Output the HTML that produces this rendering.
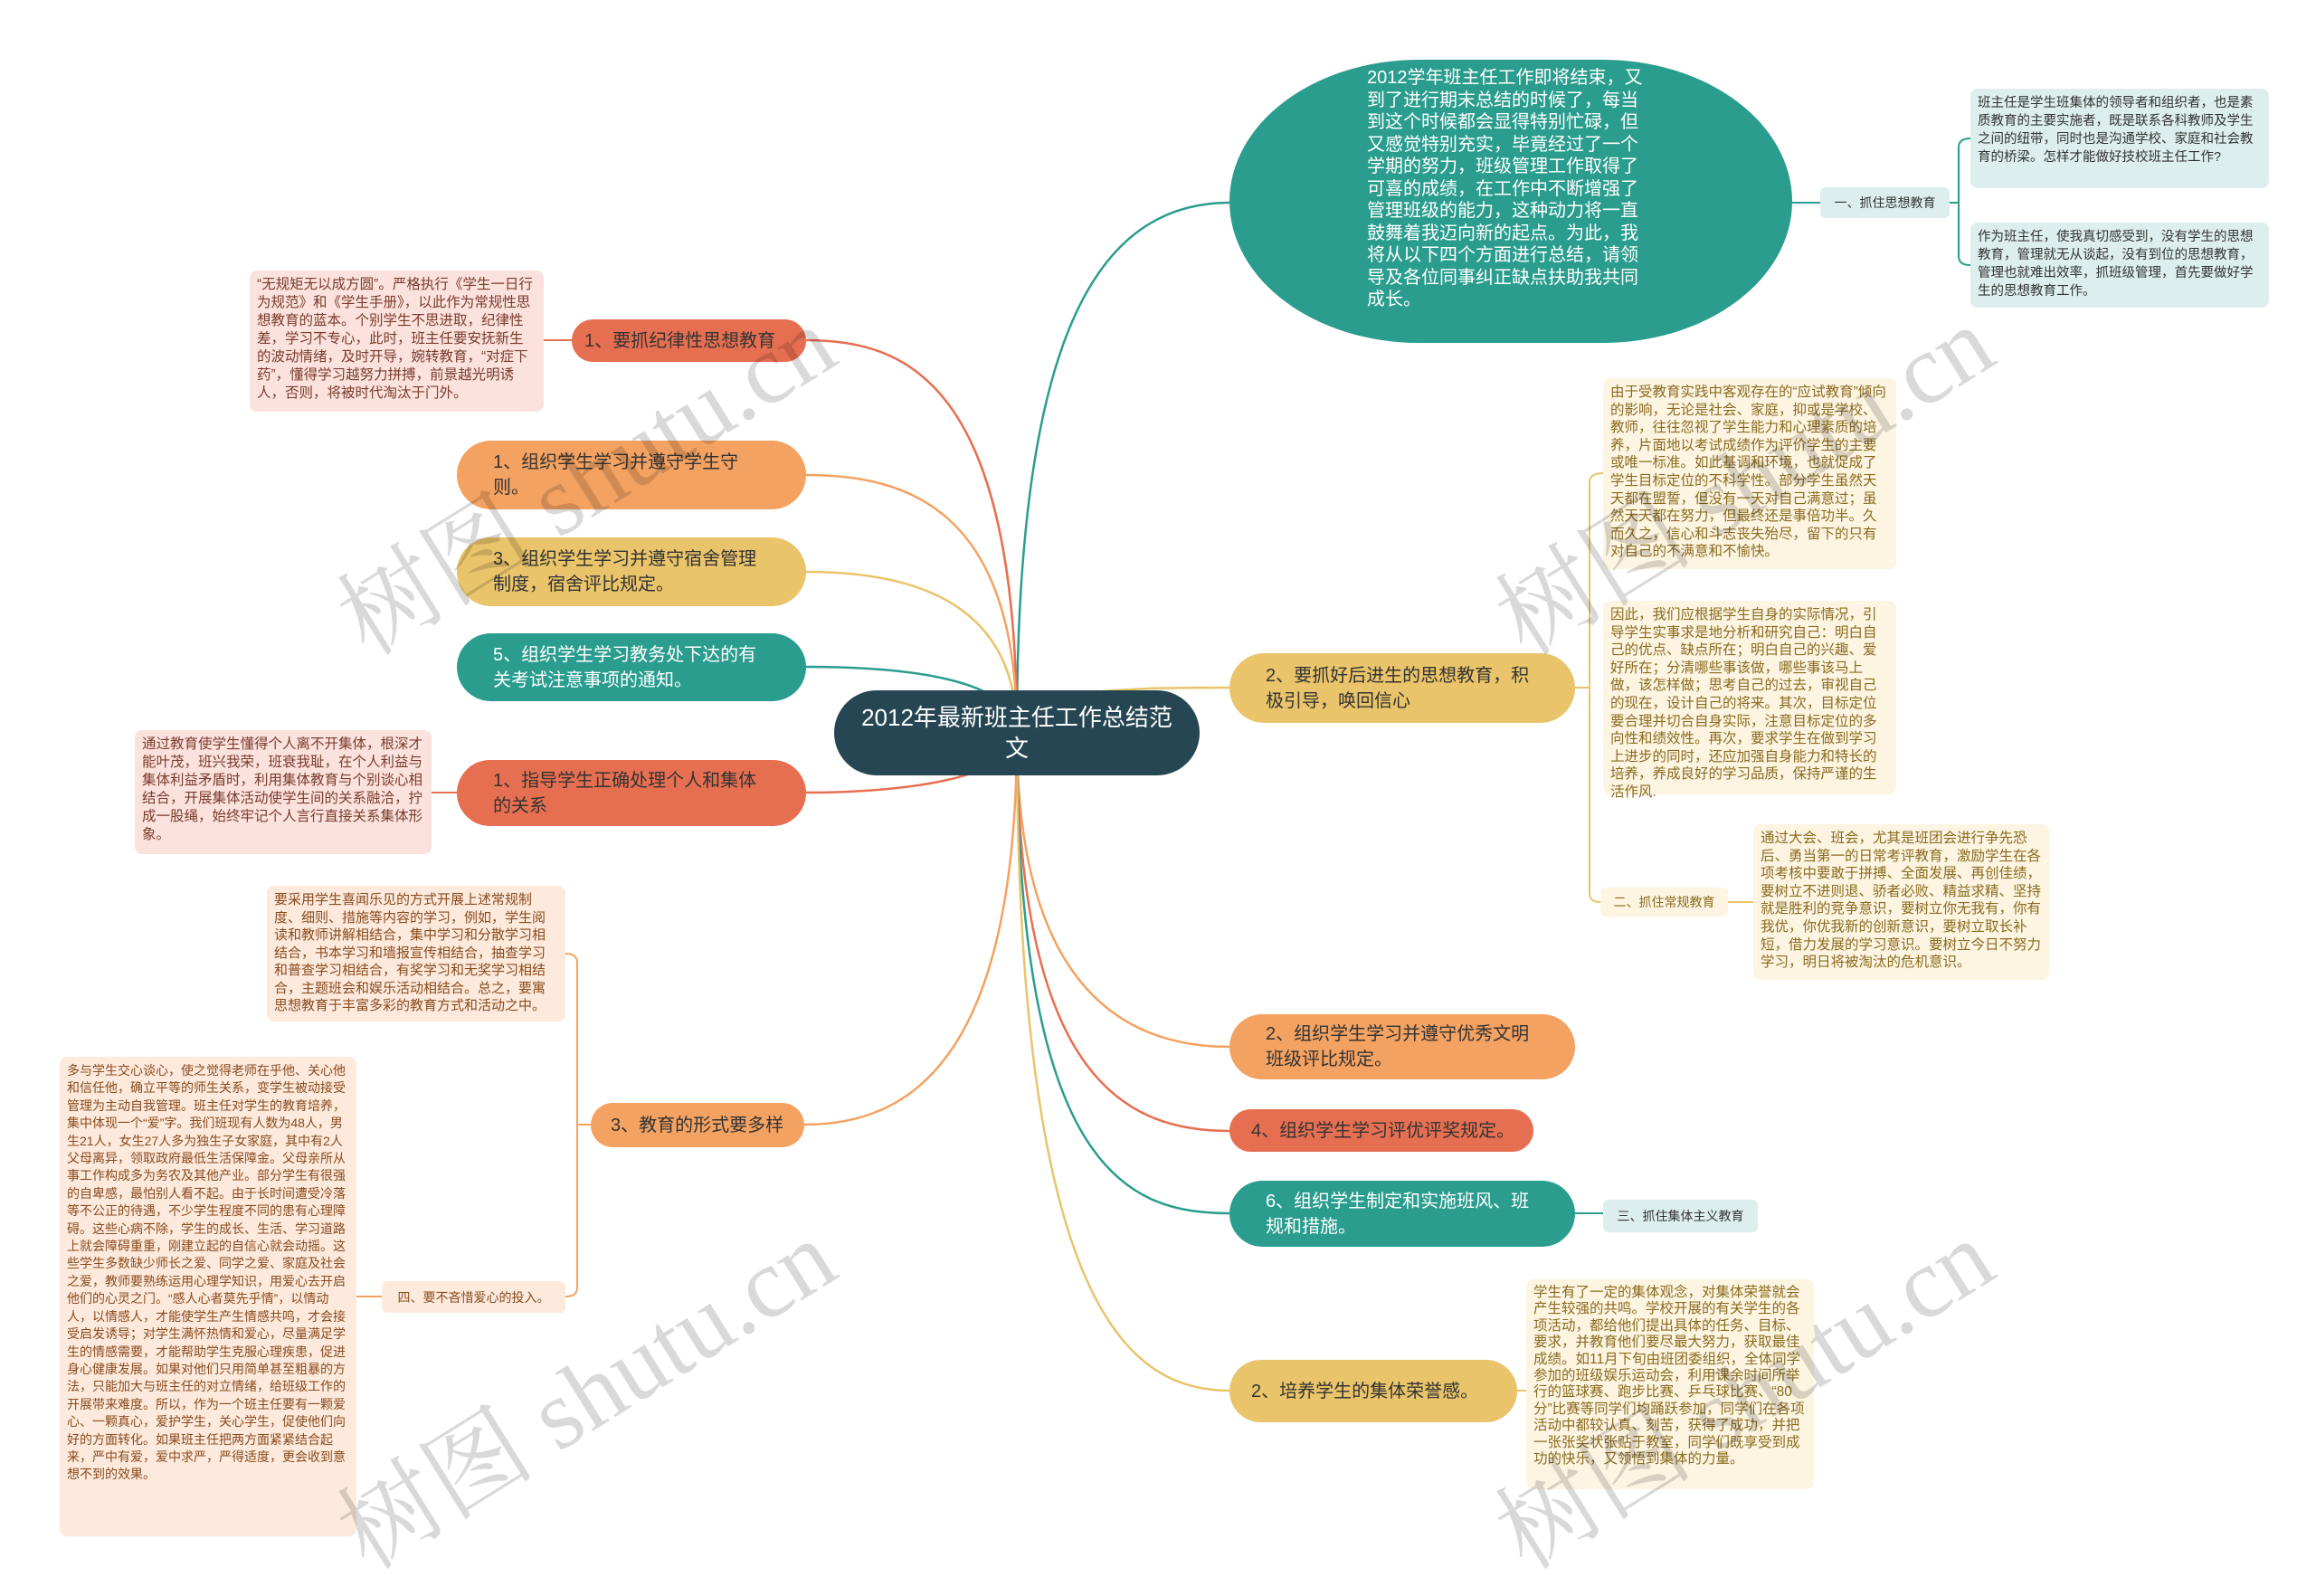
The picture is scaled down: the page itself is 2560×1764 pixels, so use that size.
<!DOCTYPE html>
<html><head><meta charset="utf-8"><style>
*{margin:0;padding:0;box-sizing:border-box}
body{width:2560px;height:1759px;background:#fff;position:relative;overflow:hidden;font-family:"Liberation Sans","Noto Sans CJK SC",sans-serif}
.n{position:absolute;border-radius:40px;font-size:20px;line-height:28px;display:flex;align-items:center;padding:0 40px}
.b{position:absolute;border-radius:8px;font-size:14.5px;line-height:20px;padding:6px 8px}
.s{position:absolute;border-radius:6px;font-size:14px;display:flex;align-items:center;justify-content:center;white-space:nowrap}
.wm{position:absolute;font-family:"Liberation Serif","Noto Serif CJK SC",serif;font-size:110px;color:rgba(0,0,0,0.15);transform:rotate(-32deg);white-space:nowrap;transform-origin:left top}
</style></head><body>
<svg width="2560" height="1759" style="position:absolute;left:0;top:0" fill="none" stroke-width="2.5">
<path d="M1124 810 C1124 400 1200 224 1359 224" stroke="#2a9d8f"/>
<path d="M1124 810 C1124 760 1250 760 1359 760" stroke="#e9c46a"/>
<path d="M1124 810 C1124 1100 1250 1157 1359 1157" stroke="#f4a261"/>
<path d="M1124 810 C1124 1200 1250 1250 1359 1250" stroke="#e76f51"/>
<path d="M1124 810 C1124 1300 1250 1341 1359 1341" stroke="#2a9d8f"/>
<path d="M1124 810 C1124 1450 1250 1537 1359 1537" stroke="#e9c46a"/>
<path d="M1124 810 C1124 420 1000 376 891 376" stroke="#e76f51"/>
<path d="M1124 810 C1124 560 1000 525 891 525" stroke="#f4a261"/>
<path d="M1124 810 C1124 660 1000 632 891 632" stroke="#e9c46a"/>
<path d="M1124 810 C1124 750 1000 737 891 737" stroke="#2a9d8f"/>
<path d="M1124 810 C1124 860 1000 876 891 876" stroke="#e76f51"/>
<path d="M1124 810 C1124 1180 1000 1243 889 1243" stroke="#f4a261"/>
<g stroke-width="2">
<path d="M1981 224 H2012" stroke="#2a9d8f"/>
<path d="M2155 224 H2165 M2165 224 V163 Q2165 153 2178 153 M2165 224 V283 Q2165 293 2178 293" stroke="#2a9d8f"/>
<path d="M1741 760 H1757 M1757 760 V533 Q1757 523 1772 523 M1757 760 V987 Q1757 997 1769 997" stroke="#e9c46a"/>
<path d="M1910 997 H1938" stroke="#e9c46a"/>
<path d="M1741 1341 H1772" stroke="#2a9d8f"/>
<path d="M1677 1537 H1687" stroke="#e9c46a"/>
<path d="M632 376 H601" stroke="#e76f51"/>
<path d="M505 876 H477" stroke="#e76f51"/>
<path d="M653 1243 H638 M638 1243 V1064 Q638 1054 625 1054 M638 1243 V1423 Q638 1433 625 1433" stroke="#f4a261"/>
<path d="M422 1433 H394" stroke="#f4a261"/>
</g>
</svg>

<div class="n" style="left:922px;top:763px;width:404px;height:94px;background:#264653;color:#fff;font-size:26px;line-height:34px;justify-content:center;text-align:center;border-radius:47px;padding:0 28px">2012年最新班主任工作总结范文</div>

<div style="position:absolute;left:1359px;top:66px;width:622px;height:313px;border-radius:210px/157px;background:#2a9d8f;"></div>
<div style="position:absolute;left:1511px;top:74px;width:316px;color:#fff;font-size:20px;line-height:24.5px">2012学年班主任工作即将结束，又到了进行期末总结的时候了，每当到这个时候都会显得特别忙碌，但又感觉特别充实，毕竟经过了一个学期的努力，班级管理工作取得了可喜的成绩，在工作中不断增强了管理班级的能力，这种动力将一直鼓舞着我迈向新的起点。为此，我将从以下四个方面进行总结，请领导及各位同事纠正缺点扶助我共同成长。</div>
<div class="s" style="left:2012px;top:207px;width:143px;height:34px;background:#dceeed;color:#333">一、抓住思想教育</div>
<div class="b" style="left:2178px;top:98px;width:330px;height:110px;background:#dceeed;color:#333">班主任是学生班集体的领导者和组织者，也是素质教育的主要实施者，既是联系各科教师及学生之间的纽带，同时也是沟通学校、家庭和社会教育的桥梁。怎样才能做好技校班主任工作?</div>
<div class="b" style="left:2178px;top:246px;width:330px;height:94px;background:#dceeed;color:#333">作为班主任，使我真切感受到，没有学生的思想教育，管理就无从谈起，没有到位的思想教育，管理也就难出效率，抓班级管理，首先要做好学生的思想教育工作。</div>

<div class="n" style="left:1359px;top:722px;width:382px;height:77px;background:#e9c46a;color:#333">2、要抓好后进生的思想教育，积极引导，唤回信心</div>
<div class="b" style="left:1772px;top:418px;width:324px;height:211px;background:#fdf5e2;color:#8a6a1e;font-size:15.5px;line-height:19.6px">由于受教育实践中客观存在的“应试教育”倾向的影响，无论是社会、家庭，抑或是学校、教师，往往忽视了学生能力和心理素质的培养，片面地以考试成绩作为评价学生的主要或唯一标准。如此基调和环境，也就促成了学生目标定位的不科学性。部分学生虽然天天都在盟誓，但没有一天对自己满意过；虽然天天都在努力，但最终还是事倍功半。久而久之，信心和斗志丧失殆尽，留下的只有对自己的不满意和不愉快。</div>
<div class="b" style="left:1772px;top:664px;width:324px;height:214px;background:#fdf5e2;color:#8a6a1e;font-size:15.5px;line-height:19.6px">因此，我们应根据学生自身的实际情况，引导学生实事求是地分析和研究自己：明白自己的优点、缺点所在；明白自己的兴趣、爱好所在；分清哪些事该做，哪些事该马上做，该怎样做；思考自己的过去，审视自己的现在，设计自己的将来。其次，目标定位要合理并切合自身实际，注意目标定位的多向性和绩效性。再次，要求学生在做到学习上进步的同时，还应加强自身能力和特长的培养，养成良好的学习品质，保持严谨的生活作风.</div>
<div class="s" style="left:1769px;top:981px;width:141px;height:32px;background:#fdf5e2;color:#8a6a1e">二、抓住常规教育</div>
<div class="b" style="left:1938px;top:911px;width:327px;height:172px;background:#fdf5e2;color:#8a6a1e;font-size:15.5px;line-height:19.6px">通过大会、班会，尤其是班团会进行争先恐后、勇当第一的日常考评教育，激励学生在各项考核中要敢于拼搏、全面发展、再创佳绩，要树立不进则退、骄者必败、精益求精、坚持就是胜利的竞争意识，要树立你无我有，你有我优，你优我新的创新意识，要树立取长补短，借力发展的学习意识。要树立今日不努力学习，明日将被淘汰的危机意识。</div>

<div class="n" style="left:1359px;top:1121px;width:382px;height:72px;background:#f4a261;color:#333">2、组织学生学习并遵守优秀文明班级评比规定。</div>
<div class="n" style="left:1359px;top:1226px;width:336px;height:47px;background:#e76f51;color:#333;padding-left:24px;white-space:nowrap">4、组织学生学习评优评奖规定。</div>
<div class="n" style="left:1359px;top:1305px;width:382px;height:73px;background:#2a9d8f;color:#fff">6、组织学生制定和实施班风、班规和措施。</div>
<div class="s" style="left:1772px;top:1326px;width:171px;height:36px;background:#dceeed;color:#333">三、抓住集体主义教育</div>
<div class="n" style="left:1359px;top:1503px;width:318px;height:69px;background:#e9c46a;color:#333;padding-left:24px;white-space:nowrap">2、培养学生的集体荣誉感。</div>
<div class="b" style="left:1687px;top:1414px;width:318px;height:232px;background:#fdf5e2;color:#8a6a1e;font-size:15.5px;line-height:18.4px">学生有了一定的集体观念，对集体荣誉就会产生较强的共鸣。学校开展的有关学生的各项活动，都给他们提出具体的任务、目标、要求，并教育他们要尽最大努力，获取最佳成绩。如11月下旬由班团委组织，全体同学参加的班级娱乐运动会，利用课余时间所举行的篮球赛、跑步比赛、乒乓球比赛、“80分”比赛等同学们均踊跃参加，同学们在各项活动中都较认真、刻苦，获得了成功，并把一张张奖状张贴于教室，同学们既享受到成功的快乐，又领悟到集体的力量。</div>

<div class="n" style="left:632px;top:353px;width:259px;height:47px;background:#e76f51;color:#333;padding-left:14px;white-space:nowrap">1、要抓纪律性思想教育</div>
<div class="b" style="left:276px;top:299px;width:325px;height:156px;background:#fbe2dc;color:#7a3b2e;font-size:15.5px;line-height:20px">“无规矩无以成方圆”。严格执行《学生一日行为规范》和《学生手册》，以此作为常规性思想教育的蓝本。个别学生不思进取，纪律性差，学习不专心，此时，班主任要安抚新生的波动情绪，及时开导，婉转教育，“对症下药”，懂得学习越努力拼搏，前景越光明诱人，否则，将被时代淘汰于门外。</div>
<div class="n" style="left:505px;top:487px;width:386px;height:76px;background:#f4a261;color:#333">1、组织学生学习并遵守学生守则。</div>
<div class="n" style="left:505px;top:594px;width:386px;height:76px;background:#e9c46a;color:#333">3、组织学生学习并遵守宿舍管理制度，宿舍评比规定。</div>
<div class="n" style="left:505px;top:700px;width:386px;height:75px;background:#2a9d8f;color:#fff">5、组织学生学习教务处下达的有关考试注意事项的通知。</div>
<div class="n" style="left:505px;top:840px;width:386px;height:73px;background:#e76f51;color:#333">1、指导学生正确处理个人和集体的关系</div>
<div class="b" style="left:149px;top:807px;width:328px;height:137px;background:#fbe2dc;color:#7a3b2e;font-size:15.5px;line-height:20px">通过教育使学生懂得个人离不开集体，根深才能叶茂，班兴我荣，班衰我耻，在个人利益与集体利益矛盾时，利用集体教育与个别谈心相结合，开展集体活动使学生间的关系融洽，拧成一股绳，始终牢记个人言行直接关系集体形象。</div>
<div class="n" style="left:653px;top:1219px;width:236px;height:49px;background:#f4a261;color:#333;padding-left:22px;white-space:nowrap">3、教育的形式要多样</div>
<div class="b" style="left:295px;top:979px;width:330px;height:150px;background:#fdeadc;color:#8a4a1e;font-size:15px;line-height:19.5px">要采用学生喜闻乐见的方式开展上述常规制度、细则、措施等内容的学习，例如，学生阅读和教师讲解相结合，集中学习和分散学习相结合，书本学习和墙报宣传相结合，抽查学习和普查学习相结合，有奖学习和无奖学习相结合，主题班会和娱乐活动相结合。总之，要寓思想教育于丰富多彩的教育方式和活动之中。</div>
<div class="s" style="left:422px;top:1416px;width:203px;height:35px;background:#fdeadc;color:#8a4a1e">四、要不吝惜爱心的投入。</div>
<div class="b" style="left:66px;top:1168px;width:328px;height:530px;background:#fdeadc;color:#8a4a1e;font-size:14px;line-height:19.4px">多与学生交心谈心，使之觉得老师在乎他、关心他和信任他，确立平等的师生关系，变学生被动接受管理为主动自我管理。班主任对学生的教育培养，集中体现一个“爱”字。我们班现有人数为48人，男生21人，女生27人多为独生子女家庭，其中有2人父母离异，领取政府最低生活保障金。父母亲所从事工作构成多为务农及其他产业。部分学生有很强的自卑感，最怕别人看不起。由于长时间遭受冷落等不公正的待遇，不少学生程度不同的患有心理障碍。这些心病不除，学生的成长、生活、学习道路上就会障碍重重，刚建立起的自信心就会动摇。这些学生多数缺少师长之爱、同学之爱、家庭及社会之爱，教师要熟练运用心理学知识，用爱心去开启他们的心灵之门。“感人心者莫先乎情”，以情动人，以情感人，才能使学生产生情感共鸣，才会接受启发诱导；对学生满怀热情和爱心，尽量满足学生的情感需要，才能帮助学生克服心理疾患，促进身心健康发展。如果对他们只用简单甚至粗暴的方法，只能加大与班主任的对立情绪，给班级工作的开展带来难度。所以，作为一个班主任要有一颗爱心、一颗真心，爱护学生，关心学生，促使他们向好的方面转化。如果班主任把两方面紧紧结合起来，严中有爱，爱中求严，严得适度，更会收到意想不到的效果。</div>

<div class="wm" style="left:340px;top:620px">树图 shutu.cn</div>
<div class="wm" style="left:1620px;top:620px">树图 shutu.cn</div>
<div class="wm" style="left:340px;top:1630px">树图 shutu.cn</div>
<div class="wm" style="left:1620px;top:1630px">树图 shutu.cn</div>
</body></html>
